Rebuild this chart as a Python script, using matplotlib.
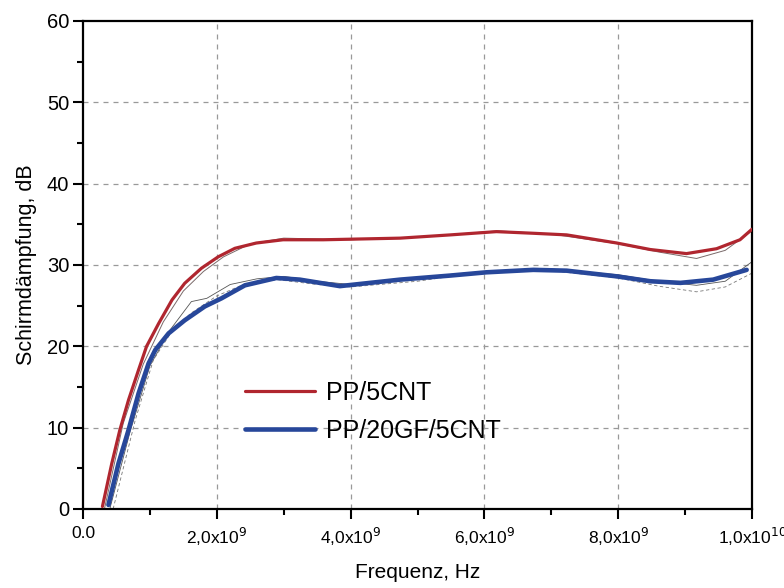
import matplotlib
matplotlib.use("Agg")
import matplotlib.pyplot as plt
from matplotlib.ticker import MultipleLocator

plt.rcParams['font.family'] = ['Liberation Sans', 'DejaVu Sans']

# Smoothed shielding curves (frequency in Hz, attenuation in dB)
f_pp5 = [0.29e9, 0.43e9, 0.55e9, 0.68e9, 0.83e9, 0.95e9, 1.13e9, 1.33e9, 1.52e9,
         1.77e9, 2.02e9, 2.27e9, 2.59e9, 2.99e9, 3.59e9, 4.74e9, 5.49e9, 6.18e9,
         6.73e9, 7.23e9, 7.98e9, 8.48e9, 9.02e9, 9.47e9, 9.82e9, 10.0e9]
db_pp5 = [0.3, 5.6, 9.7, 13.4, 17.1, 20.0, 22.8, 25.7, 27.75,
          29.6, 31.0, 32.05, 32.7, 33.1, 33.1, 33.3, 33.7, 34.1,
          33.9, 33.7, 32.7, 31.9, 31.4, 32.0, 33.1, 34.4]

f_pp20 = [0.38e9, 0.53e9, 0.68e9, 0.83e9, 0.98e9, 1.08e9, 1.28e9, 1.52e9, 1.82e9,
          2.07e9, 2.42e9, 2.89e9, 3.24e9, 3.84e9, 4.74e9, 5.49e9, 6.03e9, 6.73e9,
          7.23e9, 7.98e9, 8.48e9, 8.93e9, 9.42e9, 9.92e9]
db_pp20 = [0.5, 5.6, 9.7, 14.2, 17.9, 19.55, 21.6, 23.2, 24.9,
           25.9, 27.5, 28.4, 28.2, 27.4, 28.2, 28.7, 29.1, 29.4,
           29.3, 28.6, 28.0, 27.8, 28.2, 29.4]

# Measured raw traces
f_pp5_raw = [0.32e9, 0.60e9, 0.90e9, 1.20e9, 1.50e9, 1.80e9, 2.10e9, 2.50e9, 3.00e9,
             4.00e9, 5.00e9, 6.20e9, 7.00e9, 8.00e9, 8.60e9, 9.17e9, 9.60e9, 10.0e9]
db_pp5_raw = [0.0, 10.5, 17.8, 23.0, 26.8, 29.2, 31.0, 32.6, 33.3,
              33.1, 33.4, 34.2, 33.8, 32.6, 31.6, 30.8, 31.8, 34.2]

f_pp20_raw1 = [0.40e9, 0.70e9, 1.00e9, 1.30e9, 1.62e9, 1.85e9, 2.20e9, 2.60e9, 3.00e9,
               3.50e9, 4.00e9, 5.00e9, 6.00e9, 7.00e9, 8.00e9, 8.60e9, 9.17e9, 9.60e9,
               10.0e9]
db_pp20_raw1 = [0.0, 9.4, 17.6, 22.0, 25.5, 25.9, 27.6, 28.3, 28.6,
                28.0, 27.6, 28.5, 29.2, 29.5, 28.8, 28.0, 27.5, 28.0,
                30.4]

f_pp20_raw2 = [0.45e9, 0.78e9, 1.05e9, 1.30e9, 1.60e9, 2.00e9, 2.40e9, 2.90e9, 3.50e9,
               4.00e9, 5.00e9, 6.00e9, 7.00e9, 8.00e9, 8.60e9, 9.17e9, 9.60e9, 10.0e9]
db_pp20_raw2 = [0.0, 10.9, 18.3, 21.5, 24.0, 26.2, 27.6, 28.2, 27.6,
                27.3, 28.0, 29.2, 29.3, 28.4, 27.4, 26.7, 27.3, 29.0]

x_ticks = [0, 2e9, 4e9, 6e9, 8e9, 1e10]
x_tick_labels = ["0.0", "2,0x10$^{9}$", "4,0x10$^{9}$", "6,0x10$^{9}$",
                 "8,0x10$^{9}$", "1,0x10$^{10}$"]
y_ticks = [0, 10, 20, 30, 40, 50, 60]

fig = plt.figure(figsize=(7.84, 5.88), dpi=100)
ax = fig.add_axes([0.1059, 0.1344, 0.8533, 0.8299])

ax.plot(f_pp5_raw, db_pp5_raw, color='#7a6a6a', lw=0.7, zorder=2)
ax.plot(f_pp20_raw1, db_pp20_raw1, color='#555555', lw=0.6, zorder=2)
ax.plot(f_pp20_raw2, db_pp20_raw2, color='#777777', lw=0.6, ls=(0, (4, 3)), zorder=2)

ax.plot(f_pp5, db_pp5, color='#b0262f', lw=2.3, label='PP/5CNT', zorder=3,
        solid_capstyle='round', solid_joinstyle='round')
ax.plot(f_pp20, db_pp20, color='#27479a', lw=3.3, label='PP/20GF/5CNT', zorder=3,
        solid_capstyle='round', solid_joinstyle='round')

ax.set_xlim(0, 1e10)
ax.set_ylim(0, 60)
ax.set_xticks(x_ticks)
ax.set_xticklabels(x_tick_labels)
ax.set_yticks(y_ticks)
ax.xaxis.set_minor_locator(MultipleLocator(1e9))
ax.yaxis.set_minor_locator(MultipleLocator(5))

ax.tick_params(axis='both', which='major', direction='out', length=7, width=1.5,
               colors='black')
ax.tick_params(axis='x', which='major', pad=5, labelsize=12.5)
ax.tick_params(axis='y', which='major', pad=3, labelsize=14.5)
ax.tick_params(axis='both', which='minor', direction='out', length=4, width=1.5)

for sp in ax.spines.values():
    sp.set_linewidth(1.6)
    sp.set_color('black')

# dashed grid on inner major positions only
for xv in x_ticks[1:-1]:
    ax.axvline(xv, color='#999999', lw=0.9, ls=(0, (4, 4)), zorder=1)
for yv in y_ticks[1:-1]:
    ax.axhline(yv, color='#999999', lw=0.9, ls=(0, (4, 4)), zorder=1)

ax.set_xlabel('Frequenz, Hz', fontsize=15, labelpad=11)
ax.set_ylabel('Schirmdämpfung, dB', fontsize=15.5, labelpad=7)

ax.legend(loc='upper left', bbox_to_anchor=(0.242, 0.262), frameon=False,
          fontsize=18, handlelength=2.8, handletextpad=0.45, labelspacing=0.55,
          borderpad=0, borderaxespad=0)

fig.savefig('out.png', dpi=100)
